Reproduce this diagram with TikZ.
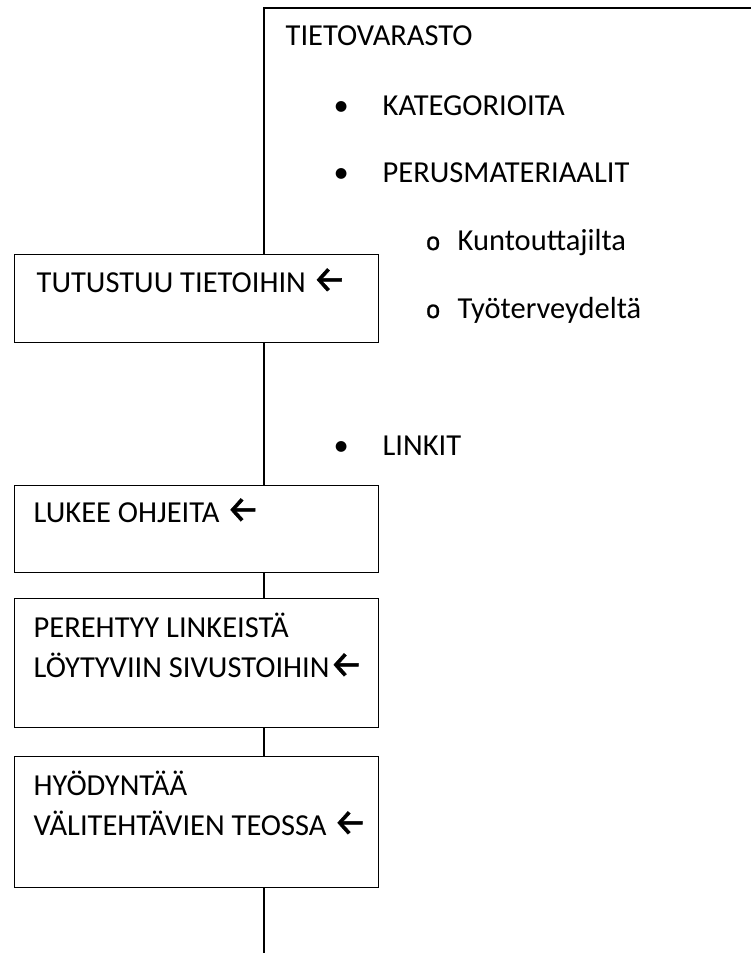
\documentclass[tikz,border=0pt]{standalone}
\usepackage{fontspec}
\setmainfont{Carlito}
\newfontfamily\arrowfont{Fira Sans}[FakeBold=1.2]
\newfontfamily\monofont{Liberation Mono}[FakeBold=1]
\newcommand{\leftarr}{{\arrowfont\fontsize{37}{40}\selectfont ←}}
\begin{document}
\begin{tikzpicture}[x=1pt,y=-1pt,
  line width=1.3pt,
  stepbox/.style={draw, fill=white, anchor=north west, inner sep=0pt},
  txt/.style={anchor=base west, inner sep=0pt, font=\fontsize{30.5}{40}\selectfont}]
\useasboundingbox (0,0) rectangle (751,953);

% flow line and storage frame
\coordinate (top) at (264,8);
\coordinate (topright) at (752,8);
\coordinate (bottom) at (264,954);

\node[stepbox, minimum width=364pt, minimum height=88pt]  (b1) at (14,254) {};
\node[stepbox, minimum width=364pt, minimum height=87pt]  (b2) at (14,485) {};
\node[stepbox, minimum width=364pt, minimum height=129pt] (b3) at (14,598) {};
\node[stepbox, minimum width=364pt, minimum height=131pt] (b4) at (14,756) {};

\draw (topright) -- (top) -- (top |- b1.north);
\draw (top |- b1.south) -- (top |- b2.north);
\draw (top |- b2.south) -- (top |- b3.north);
\draw (top |- b3.south) -- (top |- b4.north);
\draw (top |- b4.south) -- (bottom);

% storage contents
\node[txt] (tv) at (285,45) {TIETOVARASTO};
\node[txt] (d1) at (333,115) {•};
\node[txt] (l1) at (382,115) {KATEGORIOITA};
\node[txt] (d2) at (333,182) {•};
\node[txt] (l2) at (382,182) {PERUSMATERIAALIT};
\node[txt, font=\fontsize{25}{40}\monofont] (o1) at (425,250) {o};
\node[txt] (s1) at (457,250) {Kuntouttajilta};
\node[txt, font=\fontsize{25}{40}\monofont] (o2) at (425,318) {o};
\node[txt] (s2) at (457,318) {Työterveydeltä};
\node[txt] (d3) at (333,455) {•};
\node[txt] (l3) at (382,455) {LINKIT};

% step labels
\node[txt] (t1) at (36,292) {TUTUSTUU TIETOIHIN \leftarr};
\node[txt] (t2) at (33,522) {LUKEE OHJEITA \leftarr};
\node[txt] (t3a) at (33,637) {PEREHTYY LINKEISTÄ};
\node[txt] (t3b) at (33,677) {LÖYTYVIIN SIVUSTOIHIN\leftarr};
\node[txt] (t4a) at (33,795) {HYÖDYNTÄÄ};
\node[txt] (t4b) at (33,835) {VÄLITEHTÄVIEN TEOSSA \leftarr};
\end{tikzpicture}
\end{document}
